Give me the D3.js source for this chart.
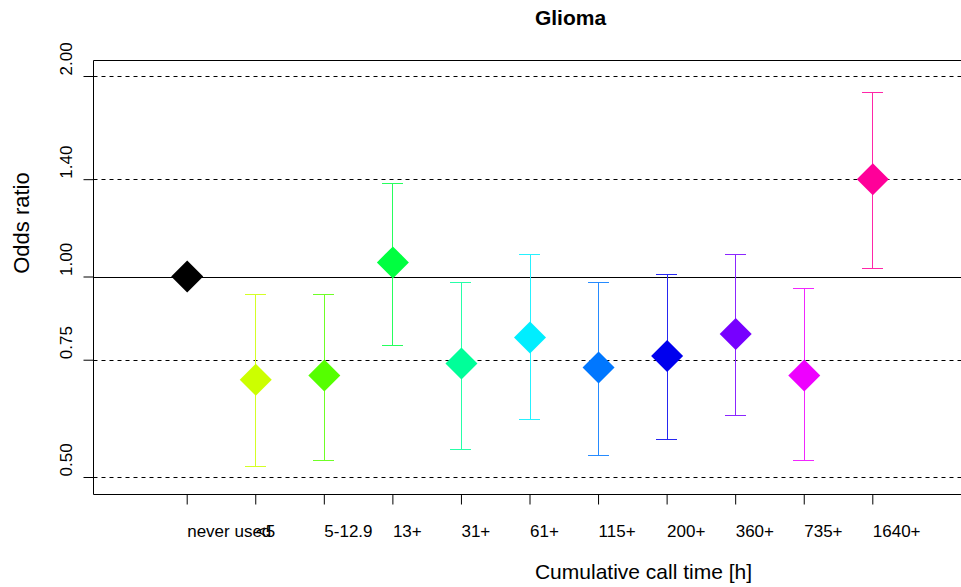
<!DOCTYPE html>
<html>
<head>
<meta charset="utf-8">
<script src="https://cdn.jsdelivr.net/npm/d3@7"></script>
<style>
  body { margin: 0; background: #fff; }
  svg { display: block; font-family: "Liberation Sans", Arial, sans-serif; }
</style>
</head>
<body>
<div id="chart"></div>
<script>
// categories of cumulative call time
const categories = ["never used", "<5", "5-12.9", "13+", "31+", "61+", "115+", "200+", "360+", "735+", "1640+"];
// odds ratios with 95% CI
const oddsRatio = [1.00, 0.70, 0.71, 1.05, 0.74, 0.81, 0.73, 0.76, 0.82, 0.71, 1.40];
const ciLower   = [null, 0.52, 0.53, 0.79, 0.55, 0.61, 0.54, 0.57, 0.62, 0.53, 1.03];
const ciUpper   = [null, 0.94, 0.94, 1.38, 0.98, 1.08, 0.98, 1.01, 1.08, 0.96, 1.89];
const colors = ["#000000", "#CCFF00", "#55FF00", "#00FF40", "#00FF99", "#00EEFF",
                "#0077FF", "#0000EE", "#7700FF", "#EE00FF", "#FF0099"];
const yTicks = [0.50, 0.75, 1.00, 1.40, 2.00];
const dashedRefs = [0.50, 0.75, 1.40, 2.00];

const width = 961, height = 587;
const box = { left: 93.5, top: 60.5, bottom: 494.5, right: 1000 };

const svg = d3.select("#chart").append("svg")
    .attr("width", width)
    .attr("height", height);

const x = d3.scalePoint()
    .domain(categories)
    .range([186.7, 872.3]);

const y = d3.scaleLog()
    .domain([0.5, 2])
    .range([477, 76]);

const data = categories.map((c, i) => ({
    cat: c, or: oddsRatio[i], lo: ciLower[i], hi: ciUpper[i], color: colors[i]
}));

// reference lines
svg.append("g").selectAll("line")
    .data(dashedRefs)
    .join("line")
    .attr("x1", box.left).attr("x2", box.right)
    .attr("y1", d => Math.round(y(d)) + 0.5)
    .attr("y2", d => Math.round(y(d)) + 0.5)
    .attr("stroke", "#000")
    .attr("stroke-dasharray", "4,4");

svg.append("line")
    .attr("x1", box.left).attr("x2", box.right)
    .attr("y1", Math.round(y(1)) + 0.5).attr("y2", Math.round(y(1)) + 0.5)
    .attr("stroke", "#000");

// plot box (right edge falls outside the picture)
svg.append("path")
    .attr("d", `M${box.right},${box.top}H${box.left}V${box.bottom}H${box.right}`)
    .attr("fill", "none")
    .attr("stroke", "#000");

// y axis
const yAxis = svg.append("g")
    .attr("transform", `translate(${box.left},0)`)
    .call(d3.axisLeft(y).tickValues(yTicks).tickSize(10).tickFormat(d3.format(".2f")));
yAxis.select(".domain").remove();
yAxis.selectAll(".tick line").attr("stroke", "#000");
yAxis.selectAll(".tick text")
    .attr("x", null).attr("dy", null)
    .attr("transform", "translate(-22,-1) rotate(-90)")
    .attr("text-anchor", "start")
    .attr("fill", "#000")
    .style("font-size", "17px");

// x axis
const xAxis = svg.append("g")
    .attr("transform", `translate(0,${box.bottom})`)
    .call(d3.axisBottom(x).tickSize(10).tickPadding(0));
xAxis.select(".domain").remove();
xAxis.selectAll(".tick line").attr("stroke", "#000");
xAxis.selectAll(".tick text")
    .attr("y", 42).attr("dy", null)
    .attr("text-anchor", "start")
    .attr("fill", "#000")
    .style("font-size", "17px");

// error bars (a touch lighter than the diamonds, as in the original)
const barColor = c => d3.interpolateRgb(c, "#fff")(0.15);
const bars = svg.append("g")
    .attr("shape-rendering", "crispEdges")
    .selectAll("g")
    .data(data.filter(d => d.lo != null))
    .join("g")
    .attr("stroke", d => barColor(d.color))
    .attr("stroke-width", 1);
bars.append("line")
    .attr("x1", d => Math.round(x(d.cat)) + 0.5).attr("x2", d => Math.round(x(d.cat)) + 0.5)
    .attr("y1", d => y(d.lo)).attr("y2", d => y(d.hi));
bars.append("line")
    .attr("x1", d => x(d.cat) - 10.5).attr("x2", d => x(d.cat) + 10.5)
    .attr("y1", d => Math.round(y(d.hi)) + 0.5).attr("y2", d => Math.round(y(d.hi)) + 0.5);
bars.append("line")
    .attr("x1", d => x(d.cat) - 10.5).attr("x2", d => x(d.cat) + 10.5)
    .attr("y1", d => Math.round(y(d.lo)) + 0.5).attr("y2", d => Math.round(y(d.lo)) + 0.5);

// diamonds
const diamond = d3.symbol().type(d3.symbolSquare).size(512);
svg.append("g").selectAll("path")
    .data(data)
    .join("path")
    .attr("d", diamond)
    .attr("transform", d => `translate(${x(d.cat) + 0.5},${y(d.or)}) rotate(45)`)
    .attr("fill", d => d.color);

// titles
svg.append("text")
    .attr("x", 570.5).attr("y", 25)
    .attr("text-anchor", "middle")
    .style("font-weight", "bold")
    .style("font-size", "21px")
    .text("Glioma");

svg.append("text")
    .attr("x", 643.5).attr("y", 579)
    .attr("text-anchor", "middle")
    .style("font-size", "21px")
    .text("Cumulative call time [h]");

svg.append("text")
    .attr("transform", "translate(29,223) rotate(-90)")
    .attr("text-anchor", "middle")
    .style("font-size", "22px")
    .text("Odds ratio");
</script>
</body>
</html>
